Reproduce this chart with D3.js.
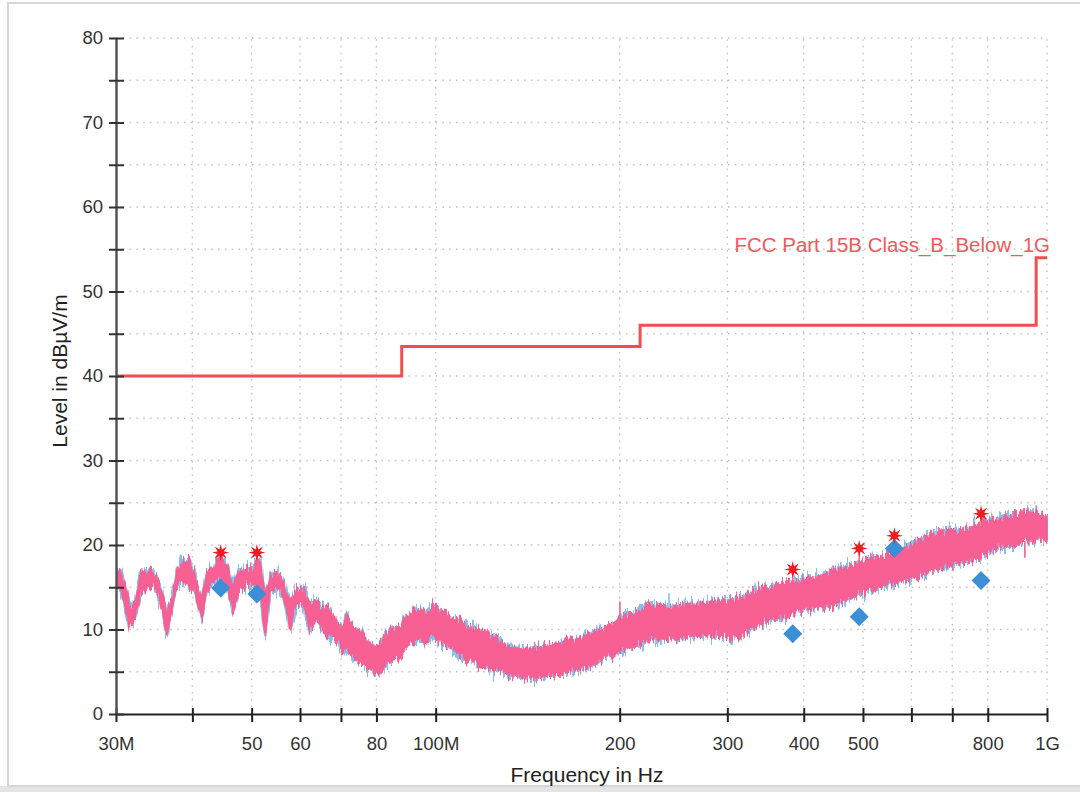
<!DOCTYPE html>
<html>
<head>
<meta charset="utf-8">
<script src="https://cdn.jsdelivr.net/npm/d3@7"></script>
<style>
  html, body { margin: 0; padding: 0; background: #fff; }
  svg { display: block; font-family: "Liberation Sans", Arial, Helvetica, sans-serif; }
</style>
</head>
<body>
<svg id="chart" width="1080" height="792"></svg>
<script>
// Radiated emission scan, 30 MHz – 1 GHz

// Axis ticks
const xTicks = [30, 40, 50, 60, 70, 80, 100, 200, 300, 400, 500, 600, 700, 800, 1000];
const xTickLabels = { 30: "30M", 50: "50", 60: "60", 80: "80", 100: "100M", 200: "200", 300: "300", 400: "400", 500: "500", 800: "800", 1000: "1G" };
const yTicks = [0, 5, 10, 15, 20, 25, 30, 35, 40, 45, 50, 55, 60, 65, 70, 75, 80];

// Limit line (step edges in MHz, level in dBµV/m)
const limitEdges = [30, 88, 216, 960, 1000];
const limitLevels = [40, 43.5, 46, 54, 54];
const limitName = "FCC Part 15B Class_B_Below_1G";

// Peak scan trace: upper and lower envelope
const traceFreq = [30.0, 30.46, 31.03, 31.62, 32.23, 32.84, 33.68, 34.49, 35.41, 36.31, 37.0, 37.7, 38.42, 39.38,
  40.39, 41.42, 42.21, 43.27, 44.38, 45.51, 46.65, 47.55, 48.76, 50.01, 51.6, 52.58, 53.58, 54.95, 56.33, 57.77,
  59.24, 60.73, 62.29, 63.88, 65.49, 67.16, 68.87, 70.6, 71.53, 73.33, 75.2, 77.12, 79.06, 81.08, 83.15, 85.24,
  87.41, 89.65, 91.91, 94.28, 96.68, 99.11, 101.65, 104.25, 106.88, 109.61, 112.4, 115.24, 118.18, 121.19, 124.24,
  127.41, 130.66, 137.38, 144.44, 151.92, 159.72, 167.93, 174.38, 183.4, 192.84, 202.75, 213.24, 224.19, 235.72,
  247.92, 260.65, 274.04, 288.24, 303.04, 318.61, 335.11, 352.33, 370.43, 389.61, 414.73, 436.22, 458.64, 482.2,
  507.16, 533.23, 560.63, 589.65, 619.95, 651.82, 685.55, 720.78, 757.83, 797.05, 838.01, 881.06, 926.64, 974.22, 1000];
const traceHi = [17.4, 17.0, 15.1, 12.9, 13.1, 16.4, 17.0, 16.8, 15.5, 12.3, 13.5, 16.7, 18.2, 18.5,
  16.4, 13.5, 16.7, 17.4, 18.8, 17.8, 15.1, 17.0, 17.4, 17.4, 18.2, 13.9, 16.2, 17.0, 15.9, 13.5,
  14.7, 15.1, 13.1, 13.5, 12.7, 12.3, 10.7, 10.3, 11.9, 10.3, 9.9, 8.8, 8.0, 8.4, 9.6, 10.3,
  10.3, 11.9, 12.3, 12.3, 11.9, 13.1, 12.3, 11.9, 11.1, 11.1, 10.3, 10.3, 9.9, 9.6, 9.1,
  8.8, 8.0, 7.8, 7.8, 8.0, 8.4, 8.8, 9.1, 9.9, 10.7, 11.5, 12.3, 13.1, 12.7,
  12.9, 13.1, 13.1, 13.5, 13.5, 13.9, 14.7, 15.1, 15.5, 15.9, 16.2, 16.6, 17.4, 17.4,
  18.2, 18.6, 19.4, 19.8, 20.6, 21.4, 21.8, 21.8, 22.2, 23.0, 23.3, 23.7, 24.1, 23.7, 23.5];
const traceLo = [15.7, 15.1, 12.7, 10.3, 11.1, 13.9, 15.1, 15.1, 13.5, 9.1, 12.3, 15.1, 15.5, 15.1,
  14.5, 11.1, 14.7, 15.5, 16.2, 15.1, 11.9, 14.3, 15.1, 15.2, 14.3, 9.1, 14.3, 14.7, 13.9, 9.9,
  13.1, 12.7, 9.9, 11.1, 9.9, 9.1, 8.8, 7.2, 8.0, 6.4, 6.0, 5.6, 4.8, 4.8, 6.0, 6.4,
  6.8, 8.0, 8.4, 8.8, 8.4, 9.1, 8.4, 8.0, 7.6, 6.8, 6.4, 6.4, 5.6, 5.6, 5.2,
  5.2, 4.8, 4.3, 4.3, 4.4, 4.6, 5.2, 5.2, 6.0, 6.8, 7.6, 8.0, 8.8, 8.8,
  8.8, 9.1, 9.5, 9.5, 9.1, 9.5, 10.3, 11.1, 11.5, 11.9, 12.3, 12.7, 13.1, 13.9,
  14.3, 15.1, 15.5, 15.9, 16.2, 17.0, 17.4, 17.8, 18.2, 19.0, 19.8, 19.8, 20.6, 20.6, 20.6];

// Isolated spikes on the trace: frequency, spike tip, band edge it leaves from
const pinkSpikeFreq = [44.5, 51.0, 200.2, 383.8, 493, 562.8, 780, 920];
const pinkSpikeTip = [18.9, 18.9, 13.3, 17.0, 19.4, 20.8, 23.5, 18.5];
const pinkSpikeBase = [17.5, 17.5, 11.0, 15.0, 17.3, 18.8, 21.6, 20.5];
const blueSpikeFreq = [240.8, 460, 601.6, 960];
const blueSpikeTip = [14.3, 18.0, 20.4, 24.7];
const blueSpikeBase = [12.5, 16.5, 19.0, 23.5];

// Final measurements: peak (star) and quasi-peak (diamond)
const markFreq = [44.5, 51.0, 383.8, 493, 562.8, 780];
const peakLevel = [19.1, 19.1, 17.1, 19.6, 21.1, 23.7];
const qpLevel = [14.9, 14.2, 9.5, 11.5, 19.6, 15.8];

// ---------------------------------------------------------------
const W = 1080, H = 792;
const svg = d3.select("#chart");

// jagged-edge filters for the scan traces (column-wise vertical jitter)
const defs = svg.append("defs");
function jitterFilter(id, seed, scale, freq) {
  const f = defs.append("filter").attr("id", id)
    .attr("filterUnits", "userSpaceOnUse")
    .attr("x", 100).attr("y", 400).attr("width", 960).attr("height", 320);
  f.append("feTurbulence").attr("type", "fractalNoise")
    .attr("baseFrequency", freq).attr("numOctaves", 2).attr("seed", seed).attr("result", "noise");
  f.append("feColorMatrix").attr("in", "noise").attr("type", "matrix")
    .attr("values", "0 0 0 0 0.5  0 1 0 0 0  0 0 0 0 0  0 0 0 0 1").attr("result", "map");
  f.append("feDisplacementMap").attr("in", "SourceGraphic").attr("in2", "map")
    .attr("scale", scale).attr("xChannelSelector", "R").attr("yChannelSelector", "G");
}
jitterFilter("jitterBlue", 7, 26, "0.45 0.03");
jitterFilter("jitterPink", 2, 20, "0.5 0.04");

// page frame
svg.append("rect").attr("x", 0).attr("y", 786).attr("width", W).attr("height", 6).attr("fill", "#e4e4e4");
svg.append("rect").attr("x", 8).attr("y", 3).attr("width", W).attr("height", 783)
  .attr("fill", "#fff").attr("stroke", "#d6d6d6").attr("stroke-width", 2);

const x = d3.scaleLog().domain([30, 1000]).range([116, 1047]);
const y = d3.scaleLinear().domain([0, 80]).range([714, 38]);

// grid
const grid = svg.append("g").attr("stroke", "#c4c4c4").attr("stroke-width", 1.4)
  .attr("stroke-dasharray", "1.6,5.2").attr("fill", "none");
grid.selectAll("line.h").data(yTicks.filter(v => v > 0)).join("line").attr("class", "h")
  .attr("x1", x(30)).attr("x2", x(1000)).attr("y1", d => y(d)).attr("y2", d => y(d));
grid.selectAll("line.v").data(xTicks.filter(v => v > 30)).join("line").attr("class", "v")
  .attr("x1", d => x(d)).attr("x2", d => x(d)).attr("y1", y(0)).attr("y2", y(80));

// trace data rows
const rows = traceFreq.map((f, i) => ({ f, hi: traceHi[i], lo: traceLo[i] }));
const band = d3.area().x(d => x(d.f)).y0(d => y(d.lo)).y1(d => y(d.hi));
const clip = defs.append("clipPath").attr("id", "plotClip");
clip.append("rect").attr("x", x(30)).attr("y", y(80)).attr("width", x(1000) - x(30) + 1).attr("height", y(0) - y(80));

// blue trace underneath
const blueG = svg.append("g").attr("clip-path", "url(#plotClip)");
blueG.append("g").attr("filter", "url(#jitterBlue)").append("path").datum(rows)
  .attr("d", band).attr("fill", "#86c0ec").attr("stroke", "#86c0ec").attr("stroke-width", 2.5);
blueG.append("g").attr("stroke", "#86c0ec").attr("stroke-width", 1.6)
  .selectAll("line").data(blueSpikeFreq.map((f, i) => ({ f, tip: blueSpikeTip[i], base: blueSpikeBase[i] })))
  .join("line").attr("x1", d => x(d.f)).attr("x2", d => x(d.f))
  .attr("y1", d => y(d.base)).attr("y2", d => y(d.tip));

// pink trace
const pinkG = svg.append("g").attr("clip-path", "url(#plotClip)");
pinkG.append("g").attr("filter", "url(#jitterPink)").append("path").datum(rows)
  .attr("d", band).attr("fill", "#f85e93").attr("stroke", "#f85e93").attr("stroke-width", 1.5);
pinkG.append("g").attr("stroke", "#f85e93").attr("stroke-width", 1.6)
  .selectAll("line").data(pinkSpikeFreq.map((f, i) => ({ f, tip: pinkSpikeTip[i], base: pinkSpikeBase[i] })))
  .join("line").attr("x1", d => x(d.f)).attr("x2", d => x(d.f))
  .attr("y1", d => y(d.base)).attr("y2", d => y(d.tip));

// limit line
const limitPts = limitEdges.map((f, i) => [f, limitLevels[i]]);
svg.append("path").datum(limitPts)
  .attr("d", d3.line().x(d => x(d[0])).y(d => y(d[1])).curve(d3.curveStepAfter))
  .attr("fill", "none").attr("stroke", "#f04e50").attr("stroke-width", 3);
svg.append("text").attr("x", 1050).attr("y", 252).attr("text-anchor", "end")
  .attr("font-size", 20.5).attr("fill", "#f05a5c").text(limitName);

// quasi-peak diamonds
svg.append("g").selectAll("path").data(markFreq.map((f, i) => ({ f, v: qpLevel[i] })))
  .join("path")
  .attr("d", d3.symbol(d3.symbolSquare, 180))
  .attr("transform", d => `translate(${x(d.f)},${y(d.v)}) rotate(45)`)
  .attr("fill", "#3a8fd6");

// peak stars
const starPath = (() => {
  const n = 8, rOut = 8.5, rIn = 3.4;
  const pts = d3.range(2 * n).map(k => {
    const a = Math.PI * k / n - Math.PI / 2;
    const r = k % 2 ? rIn : rOut;
    return [r * Math.cos(a), r * Math.sin(a)];
  });
  return "M" + pts.map(p => p.join(",")).join("L") + "Z";
})();
svg.append("g").selectAll("path").data(markFreq.map((f, i) => ({ f, v: peakLevel[i] })))
  .join("path").attr("d", starPath)
  .attr("transform", d => `translate(${x(d.f)},${y(d.v)})`)
  .attr("fill", "#ec1c24");

// axes
const xAxis = svg.append("g").attr("transform", `translate(0,${y(0)})`)
  .call(d3.axisBottom(x).tickValues(xTicks).tickFormat(d => xTickLabels[d] || "")
    .tickSizeInner(8).tickSizeOuter(0).tickPadding(15));
xAxis.select(".domain").attr("stroke", "#222").attr("stroke-width", 2);
xAxis.selectAll(".tick line").attr("y1", -6).attr("y2", 8).attr("stroke", "#222").attr("stroke-width", 2);
xAxis.selectAll(".tick text").attr("font-size", 18.5).attr("fill", "#333")
  .attr("font-family", "'Liberation Sans', Arial, sans-serif");

const yAxis = svg.append("g").attr("transform", `translate(${x(30)},0)`)
  .call(d3.axisLeft(y).tickValues(yTicks).tickFormat(d => d % 10 === 0 ? d : "")
    .tickSizeInner(7).tickSizeOuter(0).tickPadding(6));
yAxis.select(".domain").attr("stroke", "#555").attr("stroke-width", 2.5);
yAxis.selectAll(".tick line").attr("x1", -7).attr("x2", 8).attr("stroke", "#333").attr("stroke-width", 2);
yAxis.selectAll(".tick text").attr("font-size", 18.5).attr("fill", "#333")
  .attr("font-family", "'Liberation Sans', Arial, sans-serif");

// axis titles
svg.append("text").attr("x", 587).attr("y", 782).attr("text-anchor", "middle")
  .attr("font-size", 21).attr("fill", "#222").text("Frequency in Hz");
svg.append("text").attr("transform", "translate(67,371) rotate(-90)").attr("text-anchor", "middle")
  .attr("font-size", 21).attr("fill", "#222").text("Level in dBµV/m");
</script>
</body>
</html>
